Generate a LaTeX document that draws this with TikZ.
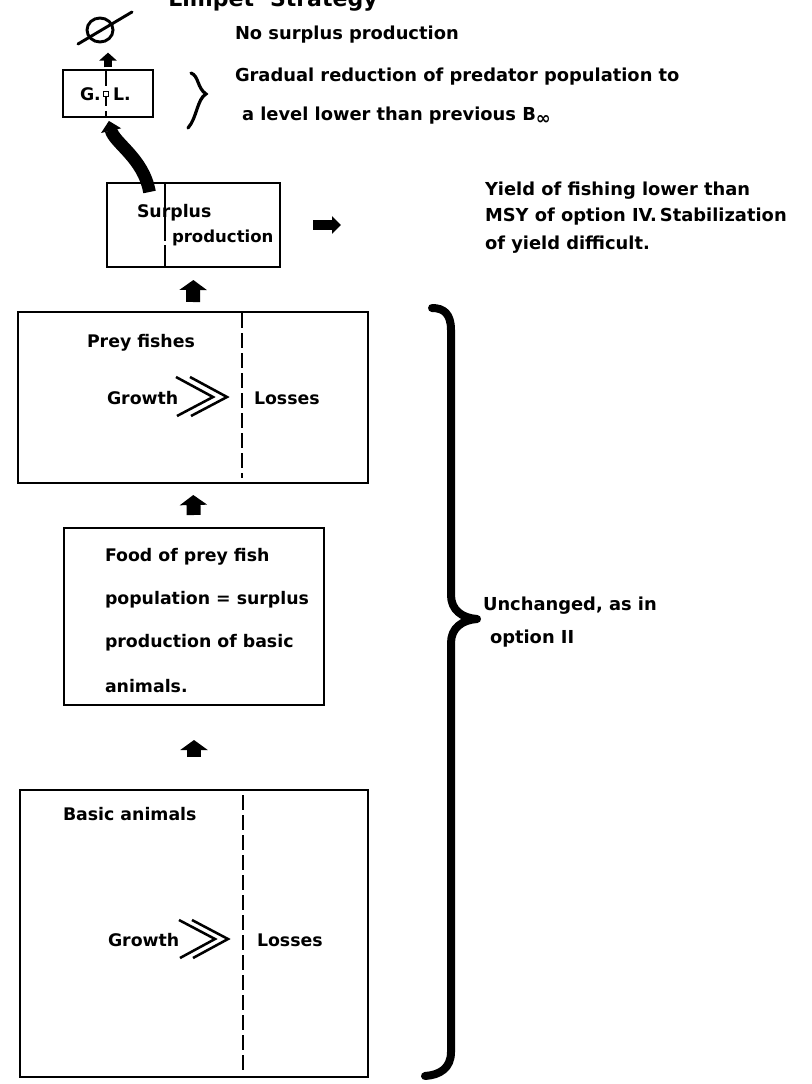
\documentclass[tikz,border=0pt]{standalone}
\usepackage{fontspec}
\setmainfont{DejaVu Sans}
\usetikzlibrary{arrows.meta,calc,shapes.geometric}
\begin{document}
\begin{tikzpicture}[x=0.75pt,y=-0.75pt,
  every node/.style={font=\bfseries\fontsize{13}{15}\selectfont, inner sep=0pt, outer sep=0pt},
  box/.style={draw, line width=1.8pt, rectangle},
  divider/.style={line width=1.2pt, dash pattern=on 11pt off 4pt},
  uparrow/.style={line width=10.5pt, -{Triangle[width=20.25pt,length=7.5pt]}},
  smallup/.style={line width=6pt, -{Triangle[width=13pt,length=6pt]}},
  rightarrow/.style={line width=7.5pt, -{Triangle[width=13pt,length=6.75pt]}},
  curvearrow/.style={line width=9.5pt, -{Triangle[width=15pt,length=7.5pt]}},
  chevron/.style={line width=1.9pt, line join=miter},
  bigbrace/.style={line width=6pt, line cap=round, line join=round},
  smallbrace/.style={line width=2.4pt, line cap=round},
  lbl/.style={anchor=base west},
  side/.style={anchor=base west, font=\bfseries\fontsize{13.4}{15}\selectfont}
]
\useasboundingbox (0,0) rectangle (812,1084);
\clip (0,0) rectangle (812,1084);

% title (cut off at the top edge, as in the reference)
\node[lbl, font=\bfseries\fontsize{16.5}{18}\selectfont] (title) at (160,7) {`Limpet' Strategy};

% empty set symbol
\node[draw, ellipse, line width=2.2pt, minimum width=19.5pt, minimum height=18pt] (empty) at (100,30) {};
\draw[line width=2.2pt, line cap=round] (78,44) -- (132,12);

% boxes
\node[box, minimum width=67.5pt, minimum height=35.25pt] (gl) at (108,93.5) {};
\node[box, minimum width=129.75pt, minimum height=63pt] (surplus) at (193.5,225) {};
\node[box, minimum width=262.5pt, minimum height=128.25pt] (prey) at (193,397.5) {};
\node[box, minimum width=195pt, minimum height=132.75pt] (food) at (194,616.5) {};
\node[box, minimum width=261pt, minimum height=215.25pt] (basic) at (194,933.5) {};

% dividers
\draw[divider] (106,71) -- (106,116);
\draw[line width=1.2pt, dash pattern=on 20pt off 3pt] (165,184) -- (165,266);
\draw[divider] (242,313) -- (242,478);
\draw[divider] (243,795) -- (243,1072);

% G.L. box content
\node[lbl] (glg) at (80,101) {G.};
\node[lbl] (gll) at (113,101) {L.};
\node[draw, fill=white, line width=0.9pt, minimum size=4pt] (sq) at (106,94) {};

% arrows
\draw[smallup, shorten <=2pt, shorten >=8pt] (gl.north) -- (gl.north |- empty.south);
\draw[curvearrow, shorten >=3pt] ($(surplus.north)+(-44,9)$) .. controls +(-6,-34) and +(6,26) .. (gl.south);
\coordinate (ra) at (341,225);
\draw[rightarrow, shorten <=24.75pt] (surplus.east) -- (ra);
\draw[uparrow, shorten <=7.5pt, shorten >=9.75pt] (prey.north) -- (surplus.south);
\draw[uparrow, shorten <=9.75pt, shorten >=9pt] (food.north) -- (prey.south);
\draw[uparrow, shorten <=24.75pt, shorten >=26.25pt] (basic.north) -- (food.south);

% surplus box text
\node[lbl] (s1) at (137,218) {Surplus};
\node[lbl, font=\bfseries\fontsize{12.4}{15}\selectfont] (s2) at (172,243) {production};

% prey box text
\node[lbl] (p1) at (87,347) {Prey fishes};
\node[lbl] (p2) at (107,404) {Growth};
\node[lbl] (p3) at (254,404) {Losses};
\draw[chevron] (176,377) -- (213,397) -- (177,416);
\draw[chevron] (190,377) -- (227,397) -- (191,416);

% food box text
\node[lbl] (f1) at (105,561) {Food of prey fish};
\node[lbl] (f2) at (105,604) {population = surplus};
\node[lbl] (f3) at (105,647) {production of basic};
\node[lbl] (f4) at (105,692) {animals.};

% basic box text
\node[lbl] (b1) at (63,820) {Basic animals};
\node[lbl] (b2) at (108,946) {Growth};
\node[lbl] (b3) at (257,946) {Losses};
\draw[chevron] (179,920) -- (215,939) -- (180,958);
\draw[chevron] (192,920) -- (228,939) -- (193,958);

% right-hand texts
\node[side] (t1) at (235,40) {No surplus production};
\draw[smallbrace] (191,73) .. controls (199,76) and (197,88) .. (206,94) .. controls (197,99) and (197,118) .. (188,128);
\node[side] (t2) at (235,82) {Gradual reduction of predator population to};
\node[side] (t3) at (242,121) {a level lower than previous B\raisebox{-0.35ex}{∞}};

\node[side] (y1) at (485,196) {Yield of fishing lower than};
\node[side] (y2) at (485,222) {MSY of option IV.\,Stabilization};
\node[side] (y3) at (485,249) {of yield difficult.};

% big brace
\draw[bigbrace] (432,308) .. controls (444,308) and (451,314) .. (451,330) -- (451,595) .. controls (451,610) and (462,618) .. (477,619) .. controls (462,620) and (451,628) .. (451,643) -- (451,1052) .. controls (451,1068) and (440,1075) .. (425,1076);
\node[side] (u1) at (483,610) {Unchanged, as in};
\node[side] (u2) at (490,643) {option II};
\end{tikzpicture}
\end{document}
